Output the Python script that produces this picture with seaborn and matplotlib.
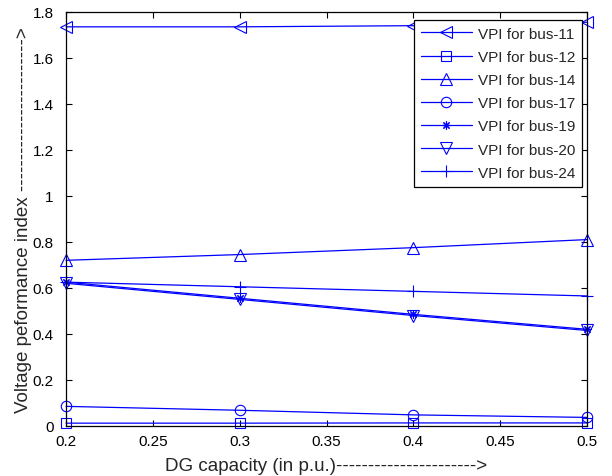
import matplotlib
matplotlib.use("Agg")
import matplotlib.pyplot as plt
import seaborn as sns
import pandas as pd

dg_capacity = [0.2, 0.3, 0.4, 0.5]
bus11 = [1.735, 1.735, 1.74, 1.755]
bus12 = [0.012, 0.012, 0.013, 0.013]
bus14 = [0.72, 0.745, 0.775, 0.81]
bus17 = [0.085, 0.068, 0.048, 0.037]
bus19 = [0.625, 0.555, 0.485, 0.42]
bus20 = [0.62, 0.55, 0.48, 0.415]
bus24 = [0.625, 0.605, 0.585, 0.565]

series_names = ["VPI for bus-11", "VPI for bus-12", "VPI for bus-14", "VPI for bus-17",
                "VPI for bus-19", "VPI for bus-20", "VPI for bus-24"]
series_values = [bus11, bus12, bus14, bus17, bus19, bus20, bus24]
markers = ["<", "s", "^", "o", (8, 2, 0), "v", "+"]
marker_sizes = [8, 7.5, 8.5, 7.5, 6, 8.5, 9]

x_ticks = [0.2, 0.25, 0.3, 0.35, 0.4, 0.45, 0.5]
x_tick_labels = ["0.2", "0.25", "0.3", "0.35", "0.4", "0.45", "0.5"]
y_ticks = [0, 0.2, 0.4, 0.6, 0.8, 1, 1.2, 1.4, 1.6, 1.8]
y_tick_labels = ["0", "0.2", "0.4", "0.6", "0.8", "1", "1.2", "1.4", "1.6", "1.8"]

sns.set_style("white")
plt.rcParams["font.family"] = ["Liberation Sans", "DejaVu Sans"]

fig = plt.figure(figsize=(6.12, 4.77), dpi=100)
ax = fig.add_axes([0.108, 0.105, 0.851, 0.868])

for name, vals, mk, ms in zip(series_names, series_values, markers, marker_sizes):
    df = pd.DataFrame({"x": dg_capacity, "y": vals})
    sns.lineplot(data=df, x="x", y="y", ax=ax, color="blue", marker=mk,
                 markersize=ms, mfc="none", mec="blue", mew=0.8, lw=0.9,
                 label=name, clip_on=False)

ax.set_xlim(0.2, 0.5)
ax.set_ylim(0, 1.8)
ax.set_xticks(x_ticks)
ax.set_xticklabels(x_tick_labels)
ax.set_yticks(y_ticks)
ax.set_yticklabels(y_tick_labels)
ax.tick_params(direction="in", length=4, width=0.8, colors="black", labelsize=11,
               top=True, right=True, bottom=True, left=True)
ax.tick_params(axis="x", pad=6)
ax.tick_params(axis="y", pad=9)
for s in ax.spines.values():
    s.set_color("black")
    s.set_linewidth(0.9)
    s.set_visible(True)

ax.set_xlabel("DG capacity (in p.u.)---------------------->", fontsize=13.5, labelpad=6)
ax.set_ylabel("Voltage peformance index ------------------------>", fontsize=13.5, labelpad=0)

leg = ax.legend(loc="upper right", bbox_to_anchor=(1 - 5 / 521, 1 - 8 / 414),
                borderaxespad=0, fontsize=11, frameon=True, fancybox=False,
                edgecolor="black", framealpha=1, handlelength=3.3, handletextpad=0.4,
                borderpad=0.45, labelspacing=0.6)
leg.get_frame().set_linewidth(0.9)

fig.savefig("out.png", dpi=100)
